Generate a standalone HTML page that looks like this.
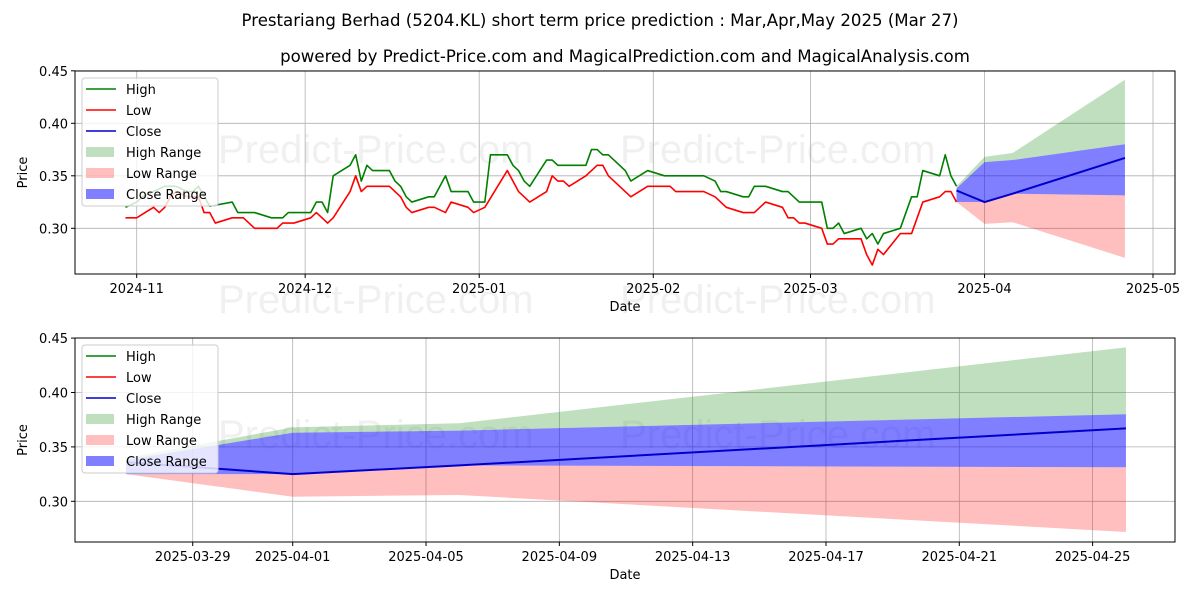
<!DOCTYPE html>
<html><head><meta charset="utf-8"><style>
body{margin:0;background:#fff;}
svg{display:block;font-family:"DejaVu Sans","Liberation Sans",sans-serif;}
</style></head><body>
<svg id="c" width="1200" height="600"></svg>
<script>
// History: day offsets from 2024-11-01
const highDays=[-2,0,1,3,5,7,9,10,11,13,17,18,21,24,26,27,31,32,33,34,35,38,39,40,41,42,45,46,47,48,49,52,53,55,56,59,60,62,63,66,67,68,69,70,73,74,75,80,81,82,83,84,87,88,91,94,101,103,104,105,108,109,110,112,115,116,118,122,123,124,125,126,129,130,131,132,133,136,138,139,140,143,144,145,146];
const highVals=[0.32,0.325,0.33,0.335,0.34,0.34,0.335,0.335,0.34,0.321,0.325,0.315,0.315,0.31,0.31,0.315,0.315,0.325,0.325,0.315,0.35,0.36,0.37,0.345,0.36,0.355,0.355,0.345,0.34,0.33,0.325,0.33,0.33,0.35,0.335,0.335,0.325,0.325,0.37,0.37,0.36,0.355,0.345,0.34,0.365,0.365,0.36,0.36,0.375,0.375,0.37,0.37,0.355,0.345,0.355,0.35,0.35,0.345,0.335,0.335,0.33,0.33,0.34,0.34,0.335,0.335,0.325,0.325,0.30,0.30,0.305,0.295,0.30,0.29,0.295,0.285,0.295,0.30,0.33,0.33,0.355,0.35,0.37,0.35,0.34];
const lowDays=[-2,0,3,4,5,6,7,9,11,12,13,14,17,19,21,25,26,28,31,32,34,35,38,39,40,41,45,47,48,49,52,53,55,56,59,60,62,66,68,70,73,74,75,76,77,80,82,83,84,88,91,95,96,101,103,105,108,110,112,115,116,117,118,119,122,123,124,125,129,130,131,132,133,136,138,140,143,144,145,146];
const lowVals=[0.31,0.31,0.32,0.315,0.32,0.33,0.335,0.33,0.33,0.315,0.315,0.305,0.31,0.31,0.30,0.30,0.305,0.305,0.31,0.315,0.305,0.31,0.335,0.35,0.335,0.34,0.34,0.33,0.32,0.315,0.32,0.32,0.315,0.325,0.32,0.315,0.32,0.355,0.335,0.325,0.335,0.35,0.345,0.345,0.34,0.35,0.36,0.36,0.35,0.33,0.34,0.34,0.335,0.335,0.33,0.32,0.315,0.315,0.325,0.32,0.31,0.31,0.305,0.305,0.30,0.285,0.285,0.29,0.29,0.275,0.265,0.28,0.275,0.295,0.295,0.325,0.33,0.335,0.335,0.325];
// Forecast: days relative to 2025-04-01
const fcDays=[-5,0,5,25];
const fcClose=[0.336,0.325,0.333,0.367];
const fcHighTop=[0.34,0.368,0.3717,0.4415];
const fcCloseTop=[0.338,0.363,0.365,0.380];
const fcCloseBot=[0.325,0.325,0.333,0.3313];
const fcLowBot=[0.325,0.3042,0.3058,0.2718];
const topXTicks=[["2024-11",0],["2024-12",30],["2025-01",61],["2025-02",92],["2025-03",120],["2025-04",151],["2025-05",181]];
const botXTicks=[["2025-03-29",-3],["2025-04-01",0],["2025-04-05",4],["2025-04-09",8],["2025-04-13",12],["2025-04-17",16],["2025-04-21",20],["2025-04-25",24]];
const yTicks=[0.30,0.35,0.40,0.45];

const NS="http://www.w3.org/2000/svg";
const svg=document.getElementById('c');
function el(tag,attrs,parent,text){const e=document.createElementNS(NS,tag);for(const k in attrs)e.setAttribute(k,attrs[k]);if(text!==undefined)e.textContent=text;(parent||svg).appendChild(e);return e;}

function t(x,y,s,size,anchor,name){const e=el('text',{x:x,y:y,'font-size':size,'text-anchor':anchor||'middle',fill:'#000'},svg,s);

return e;}
t(600,26,"Prestariang Berhad (5204.KL) short term price prediction : Mar,Apr,May 2025 (Mar 27)",16.6,'middle','chart-title');
t(625,62,"powered by Predict-Price.com and MagicalPrediction.com and MagicalAnalysis.com",16.6,'middle','chart-subtitle');

function panel(o){
  const g=el('g',{});
  
  
  const X=d=>o.x0+(d-o.d0)*o.px;
  const Y=v=>o.yTop+(o.vTop-v)*o.py;
  o.wm.forEach(w=>{const e=el('text',{x:w[0],y:w[1],'font-size':40,'font-family':'Liberation Sans',fill:'#000','fill-opacity':0.06},g,'Predict-Price.com');
    
    });
  o.xt.forEach(k=>{const x=X(k[1]);el('line',{x1:x,x2:x,y1:o.top,y2:o.bot,stroke:'#b0b0b0','stroke-width':0.8},g);
    el('line',{x1:x,x2:x,y1:o.bot,y2:o.bot+4,stroke:'#000'},g);
    const e=el('text',{x:x,y:o.bot+19,'font-size':13,'text-anchor':'middle'},g,k[0]);
    
    });
  yTicks.forEach(v=>{const y=Y(v);el('line',{x1:o.left,x2:o.right,y1:y,y2:y,stroke:'#b0b0b0','stroke-width':0.8},g);
    el('line',{x1:o.left-4,x2:o.left,y1:y,y2:y,stroke:'#000'},g);
    const e=el('text',{x:o.left-7,y:y+5,'font-size':13,'text-anchor':'end'},g,v.toFixed(2));
    
    });
  const fx=d=>X(o.fcOff+d);
  function band(top,bot,color,op,name){
    let p='M'+fcDays.map((d,i)=>fx(d)+','+Y(top[i])).join('L')+'L'+fcDays.slice().reverse().map((d,j)=>{const i=fcDays.length-1-j;return fx(d)+','+Y(bot[i]);}).join('L')+'Z';
    const e=el('path',{d:p,fill:color,'fill-opacity':op},g);
    
    }
  band(fcHighTop,fcCloseTop,'#008000',0.25,'high-range-band');
  band(fcCloseBot,fcLowBot,'#ff0000',0.25,'low-range-band');
  band(fcCloseTop,fcCloseBot,'#0000ff',0.5,'close-range-band');
  function line(ds,vs,color,name){const e=el('polyline',{points:ds.map((d,i)=>X(d)+','+Y(vs[i])).join(' '),fill:'none',stroke:color,'stroke-width':1.6,'stroke-linejoin':'round'},g);
    
    }
  if(o.hist){line(highDays,highVals,'#008000','high-line');line(lowDays,lowVals,'#ff0000','low-line');}
  const e=el('polyline',{points:fcDays.map((d,i)=>fx(d)+','+Y(fcClose[i])).join(' '),fill:'none',stroke:'#0000cc','stroke-width':2},g);
  
  
  el('rect',{x:o.left,y:o.top,width:o.right-o.left,height:o.bot-o.top,fill:'none',stroke:'#000','stroke-width':1},g);
  const xl=el('text',{x:(o.left+o.right)/2,y:o.bot+37,'font-size':13,'text-anchor':'middle'},g,'Date');
  
  
  const cy=(o.top+o.bot)/2;
  const yl=el('text',{x:27,y:cy,'font-size':13,'text-anchor':'middle',transform:'rotate(-90 27 '+cy+')'},g,'Price');
  
  
  const lg=el('g',{},g);
  
  
  el('rect',{x:82,y:o.lgY,width:136,height:128,rx:3,fill:'#fff','fill-opacity':0.8,stroke:'#ccc'},lg);
  const items=[['High','#008000',0],['Low','#ff0000',0],['Close','#0000cc',0],['High Range','#008000',0.25],['Low Range','#ff0000',0.25],['Close Range','#0000ff',0.5]];
  items.forEach((it,i)=>{const y=o.lgY+11+i*21;
    if(it[2]===0)el('line',{x1:86,x2:116,y1:y,y2:y,stroke:it[1],'stroke-width':1.6},lg);
    else el('rect',{x:86,y:y-5,width:28,height:10,fill:it[1],'fill-opacity':it[2]},lg);
    const e=el('text',{x:126,y:y+5,'font-size':13},lg,it[0]);
    
    });
}
panel({name:'history-panel',left:75,right:1175,top:71,bot:274,x0:136.7,d0:0,px:5.615,yTop:123.3,vTop:0.40,py:1050,fcOff:151,hist:true,xt:topXTicks,lgY:78,
  wm:[[218,163],[620,163],[218,313],[620,313]]});
panel({name:'forecast-panel',left:75,right:1175,top:338,bot:542,x0:292.7,d0:0,px:33.33,yTop:501.3,vTop:0.30,py:1088,fcOff:0,hist:false,xt:botXTicks,lgY:345,
  wm:[[218,448],[620,448]]});
</script>
</body></html>
